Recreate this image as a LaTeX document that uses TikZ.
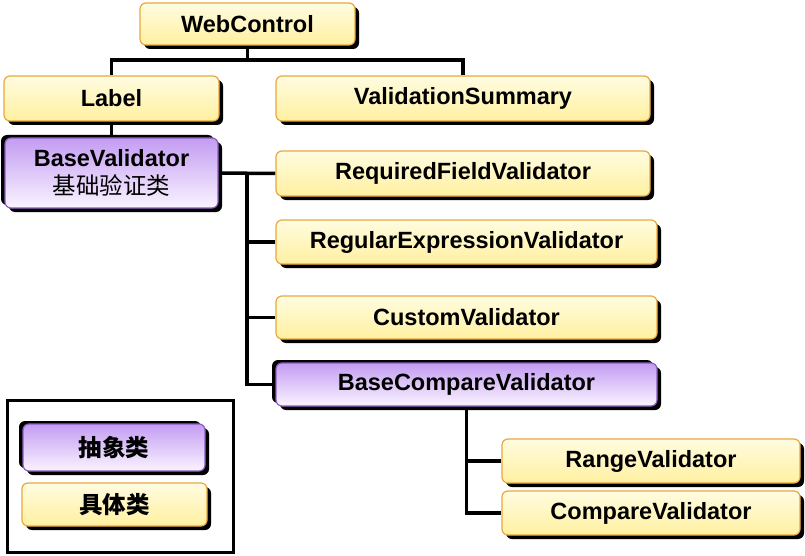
\documentclass[tikz,border=0pt]{standalone}
\usepackage{fontspec}
\setmainfont{Liberation Sans}
\newfontfamily\cjk{Noto Sans CJK SC}
\usetikzlibrary{shadows,backgrounds}
\definecolor{ytop}{HTML}{FFFCE0}
\definecolor{ybot}{HTML}{FFF0A0}
\definecolor{yedge}{HTML}{E8A840}
\definecolor{ptop}{HTML}{C39CF2}
\definecolor{pbot}{HTML}{FAF4FF}
\definecolor{pedge}{HTML}{8C5CC0}
\tikzset{
  boxbase/.style={rounded corners=6pt, line width=1.2pt, align=center, inner sep=0pt,
    font=\fontsize{23.5}{27}\selectfont\bfseries,
    general shadow={shadow xshift=4pt, shadow yshift=-4pt, fill=black}},
  ybox/.style={boxbase, draw=yedge, top color=ytop, bottom color=ybot},
  pbox/.style={boxbase, draw=pedge, top color=ptop, bottom color=pbot,
    general shadow={shadow xshift=-4pt, shadow yshift=3pt, fill=black}},
  conn/.style={line width=3.5pt, black}
}
\begin{document}
\begin{tikzpicture}[x=1pt,y=-1pt]
\useasboundingbox (0,0) rectangle (805,556);
\node[ybox, minimum width=215pt, minimum height=42pt] (wc) at (247.5,24) {WebControl};
\node[ybox, minimum width=215pt, minimum height=45pt] (lb) at (111.5,98.5) {Label};
\node[ybox, minimum width=374pt, minimum height=45pt] (vs) at (463,98.5) {ValidationSummary};
\node[pbox, minimum width=213pt, minimum height=70pt] (bv) at (111.5,173) {BaseValidator\\[1pt]{\cjk\mdseries 基础验证类}};
\node[ybox, minimum width=374pt, minimum height=45pt] (rfv) at (463,173.5) {RequiredFieldValidator};
\node[ybox, minimum width=381pt, minimum height=44pt] (rev) at (466.5,242) {RegularExpressionValidator};
\node[ybox, minimum width=381pt, minimum height=43pt] (cuv) at (466.5,317.5) {CustomValidator};
\node[pbox, minimum width=381pt, minimum height=43pt] (bcv) at (466.5,384.5) {BaseCompareValidator};
\node[ybox, minimum width=298pt, minimum height=44pt] (rv) at (651,461) {RangeValidator};
\node[ybox, minimum width=298pt, minimum height=44pt] (cv) at (651,513) {CompareValidator};
\node[draw=black, line width=3pt, minimum width=226pt, minimum height=152pt, inner sep=0pt] (legend) at (120,476) {};
\node[pbox, minimum width=182pt, minimum height=47pt] (abs) at (114,447.5) {\cjk 抽象类};
\node[ybox, minimum width=185pt, minimum height=43pt] (con) at (114.5,504.5) {\cjk 具体类};
\coordinate (bus) at (0,60);
\coordinate (spine) at (247,0);
\begin{scope}[on background layer]
\fill[white] (0,0) rectangle (805,556);
\draw[conn] (wc.south) -- (wc.south |- bus);
\draw[conn] (lb.north) -- (lb.north |- bus) -- (vs.north |- bus) -- (vs.north);
\draw[conn] (lb.south) -- (bv.north);
\draw[conn] (bv.east) -- (rfv.west);
\draw[conn] (spine |- rfv.west) -- (spine |- bcv.west) -- (bcv.west);
\draw[conn] (spine |- rev.west) -- (rev.west);
\draw[conn] (spine |- cuv.west) -- (cuv.west);
\draw[conn] (bcv.south) -- (bcv.south |- cv.west) -- (cv.west);
\draw[conn] (bcv.south |- rv.west) -- (rv.west);
\end{scope}
\end{tikzpicture}
\end{document}
